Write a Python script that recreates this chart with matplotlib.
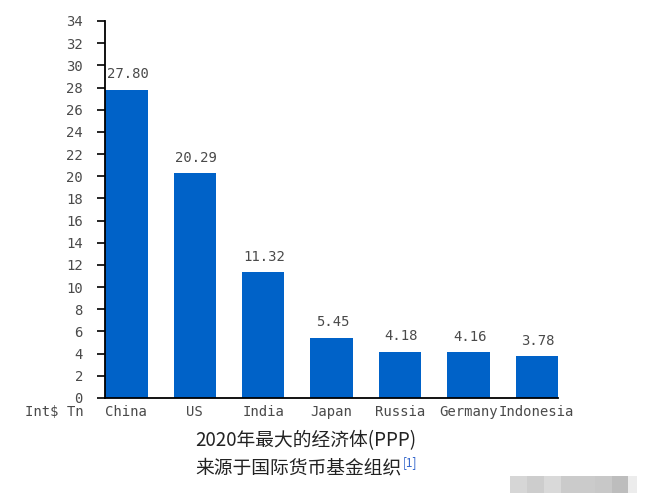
import matplotlib.pyplot as plt
from matplotlib.patches import Rectangle

countries = ['China', 'US', 'India', 'Japan', 'Russia', 'Germany', 'Indonesia']
gdp_ppp = [27.80, 20.29, 11.32, 5.45, 4.18, 4.16, 3.78]
y_ticks = list(range(0, 35, 2))

fig = plt.figure(figsize=(6.45, 4.96), dpi=100)
ax = fig.add_axes([0.163, 0.1976, 0.702, 0.7601])

mono = 'DejaVu Sans Mono'
grey = '#4a4a4a'

bars = ax.bar(range(len(countries)), gdp_ppp, width=0.62, color='#0062C8')
for rect, val in zip(bars, gdp_ppp):
    ax.annotate('%.2f' % val, (rect.get_x() + rect.get_width() / 2, rect.get_height()),
                xytext=(1, 6), textcoords='offset points', ha='center', va='bottom',
                family=mono, fontsize=10, color=grey)

ax.set_xlim(-0.31, len(countries) - 1 + 0.31)
ax.set_ylim(0, 34)
ax.set_yticks(y_ticks)
ax.set_xticks(range(len(countries)))
ax.set_xticklabels(countries)
ax.tick_params(axis='y', length=6, width=1.2, pad=10, labelsize=10, labelcolor=grey)
ax.tick_params(axis='x', length=0, pad=5, labelsize=10, labelcolor=grey)
for lbl in ax.get_xticklabels() + ax.get_yticklabels():
    lbl.set_family(mono)

ax.spines['top'].set_visible(False)
ax.spines['right'].set_visible(False)
ax.spines['left'].set_linewidth(1.3)
ax.spines['bottom'].set_linewidth(1.3)

fig.text(84 / 645, 1 - 412 / 496, 'Int$ Tn', ha='right', va='center',
         family=mono, fontsize=10, color=grey)

# caption below the chart
cjk = ['Noto Sans CJK SC', 'DejaVu Sans']
fig.text(195 / 645, 1 - 441 / 496, '2020年最大的经济体(PPP)', ha='left', va='center',
         family=cjk, fontsize=13.5, color='#222222')
src = fig.text(195 / 645, 1 - 468 / 496, '来源于国际货币基金组织', ha='left', va='center',
               family=cjk, fontsize=13.5, color='#222222')
plt.annotate('[1]', xy=(1, 1), xycoords=src, xytext=(1, 1), textcoords='offset points',
             ha='left', va='top', family=cjk, fontsize=8.5, color='#3366cc')

# blurred watermark blocks
blocks = [(510, 17, '#d6d6d6'), (527, 17, '#cdcdcd'), (544, 17, '#d9d9d9'),
          (561, 34, '#cbcbcb'), (595, 17, '#c8c8c8'), (612, 16, '#bdbdbd'),
          (628, 9, '#ececec')]
for x0, w, c in blocks:
    fig.patches.append(Rectangle((x0 / 645, 1 - 493 / 496), w / 645, 17 / 496,
                                 transform=fig.transFigure, color=c, lw=0))

fig.savefig('out.png', dpi=100)
